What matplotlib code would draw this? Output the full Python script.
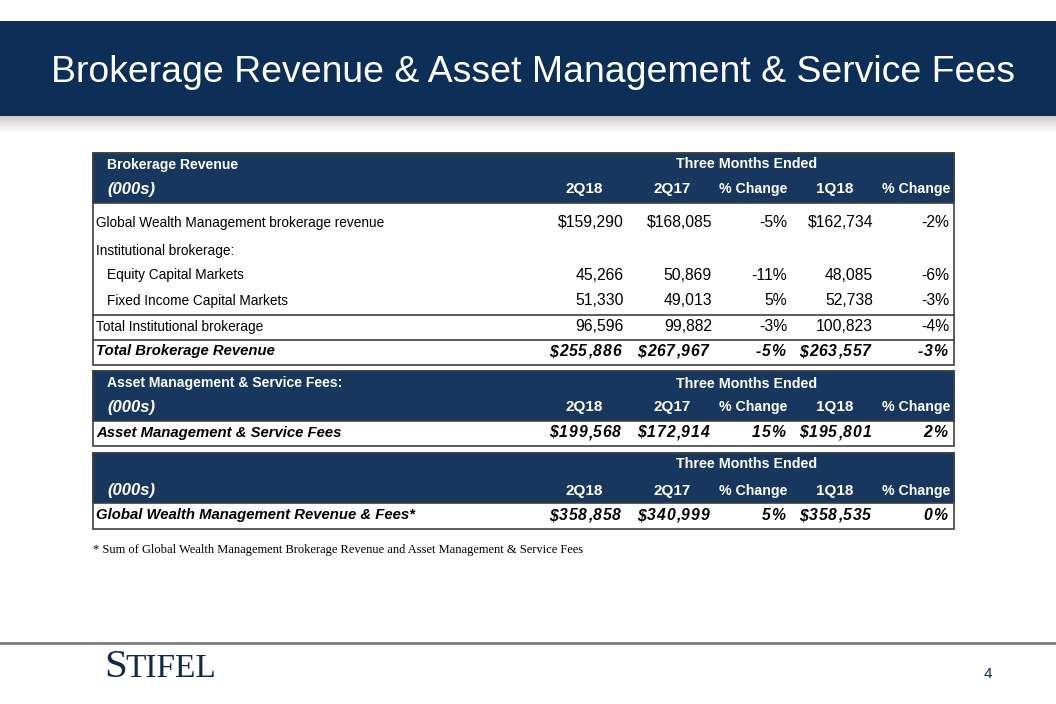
import matplotlib
matplotlib.use("Agg")
import matplotlib.pyplot as plt
from matplotlib.patches import Rectangle
from matplotlib import font_manager as fm

# ---------------- data ----------------
title = "Brokerage Revenue & Asset Management & Service Fees"
col_headers = ["2Q18", "2Q17", "% Change", "1Q18", "% Change"]

brok_labels = ["Global Wealth Management brokerage revenue",
               "Institutional brokerage:",
               "Equity Capital Markets",
               "Fixed Income Capital Markets",
               "Total Institutional brokerage",
               "Total Brokerage Revenue"]
brok_indent = [False, False, True, True, False, False]
brok_2q18 = [159290, None, 45266, 51330, 96596, 255886]
brok_2q17 = [168085, None, 50869, 49013, 99882, 267967]
brok_yoy = [-5, None, -11, 5, -3, -5]
brok_1q18 = [162734, None, 48085, 52738, 100823, 263557]
brok_qoq = [-2, None, -6, -3, -4, -3]
brok_dollar = [True, False, False, False, False, True]

am_label = "Asset Management & Service Fees"
am_values = [199568, 172914, 15, 195801, 2]

gwm_label = "Global Wealth Management Revenue & Fees*"
gwm_values = [358858, 340999, 5, 358535, 0]

footnote = "* Sum of Global Wealth Management Brokerage Revenue and Asset Management & Service Fees"

# ---------------- style ----------------
names = {f.name for f in fm.fontManager.ttflist}
SANS = "Liberation Sans"
NARROW = "Liberation Sans Narrow" if "Liberation Sans Narrow" in names else SANS
SERIF = "Liberation Serif"
BANNER = "#0c2e57"
HEAD = "#17375e"
NAVY = "#13294b"
BORDER = "#404040"
# Arial/Liberation Sans advance widths (per 1000 em) for letter-spaced totals
ADV = {"$": 556, ",": 278, "%": 889, "-": 333}
for d in "0123456789":
    ADV[d] = 556

W, H = 1056, 704
fig = plt.figure(figsize=(W / 100, H / 100), dpi=100)
ax = fig.add_axes([0, 0, 1, 1])
ax.set_xlim(0, W)
ax.set_ylim(H, 0)
ax.axis("off")

# banner with shadow
for i in range(16):
    ax.add_patch(Rectangle((0, 116 + i), W, 1, color="#707070",
                           alpha=0.35 * (1 - i / 16), lw=0))
ax.add_patch(Rectangle((0, 21), W, 95, color=BANNER, lw=0))
ax.text(533, 72, title, color="white", fontsize=26.9, family=SANS,
        ha="center", va="center")

# column x positions (right edges)
data_x = [624, 712, 787, 873, 949]
total_x = [621, 709, 785, 871, 947]
head_x = [603, 691, 787, 853, 950]
left_x = 93
right_x = 954
label_fs = 11.2 if NARROW != SANS else 9.8
num_fs = 11.3
VA = "center_baseline"


def spaced_right(x, y, s, fs, gap, **kw):
    """Right-aligned text drawn with extra letter spacing."""
    px = fs * 100 / 72
    for ch in reversed(s):
        x -= ADV.get(ch, 556) / 1000 * px
        ax.text(x, y, ch, fontsize=fs, ha="left", **kw)
        x -= gap


def fmt_num(v, dollar):
    if v is None:
        return ""
    s = f"{v:,}"
    return "$" + s if dollar else s


def fmt_pct(v):
    return "" if v is None else f"{v}%"


def header(top, hbot, bottom, title_txt, y1, y2):
    ax.add_patch(Rectangle((left_x, top), right_x - left_x, bottom - top,
                           facecolor="white", edgecolor=BORDER, lw=1.2, zorder=1))
    ax.add_patch(Rectangle((left_x, top), right_x - left_x, hbot - top,
                           facecolor=HEAD, edgecolor=BORDER, lw=1.2, zorder=2))
    kw = dict(color="white", family=SANS, fontweight="bold", va=VA, zorder=3)
    if title_txt:
        ax.text(107, y1, title_txt, fontsize=10.1, ha="left", **kw)
    ax.text(747, y1, "Three Months Ended", fontsize=10.3, ha="center", **kw)
    ax.text(107, y2, "(000s)", fontsize=12, style="italic", ha="left", **kw)
    for x, h in zip(head_x, col_headers):
        ax.text(x, y2, h, fontsize=10.2 if h.startswith("%") else 11,
                ha="right", **kw)


def total_row(y, label, vals):
    kw = dict(family=SANS, fontweight="bold", style="italic", va=VA,
              zorder=3, color="black")
    ax.text(left_x + 3, y, label, ha="left", fontsize=10.7, **kw)
    txt = [fmt_num(vals[0], True), fmt_num(vals[1], True), fmt_pct(vals[2]),
           fmt_num(vals[3], True), fmt_pct(vals[4])]
    for x, t in zip(total_x, txt):
        spaced_right(x, y, t, 11.3, 0.9, **kw)


# ---- table 1 ----
header(153, 203, 365, "Brokerage Revenue", 163, 188)
row_y = [221, 249, 274, 299, 325]
for i, y in enumerate(row_y):
    ax.text(107 if brok_indent[i] else left_x + 3, y, brok_labels[i],
            fontsize=label_fs, family=NARROW, ha="left", va=VA,
            zorder=3, color="black")
    txt = [fmt_num(brok_2q18[i], brok_dollar[i]),
           fmt_num(brok_2q17[i], brok_dollar[i]),
           fmt_pct(brok_yoy[i]),
           fmt_num(brok_1q18[i], brok_dollar[i]),
           fmt_pct(brok_qoq[i])]
    for x, t in zip(data_x, txt):
        ax.text(x, y, t, fontsize=num_fs, family=SANS, ha="right",
                va=VA, zorder=3, color="black")
for yl in (315, 340):
    ax.plot([left_x, right_x], [yl, yl], color=BORDER, lw=1.2, zorder=3)
total_row(350, brok_labels[5], [brok_2q18[5], brok_2q17[5], brok_yoy[5],
                                brok_1q18[5], brok_qoq[5]])

# ---- table 2 ----
header(371, 421, 446, "Asset Management & Service Fees:", 382, 406)
total_row(431, am_label, am_values)

# ---- table 3 ----
header(453, 503, 529, "", 463, 489)
total_row(514, gwm_label, gwm_values)

# footnote
ax.text(93, 548, footnote, fontsize=9, family=SERIF, ha="left",
        va=VA, color="black")

# footer
ax.plot([0, W], [643, 643], color="#7f7f7f", lw=2)
ax.text(104, 677, "S", fontsize=29.5, family=SERIF, color=NAVY,
        ha="left", va="baseline")
ax.text(125, 677, "TIFEL", fontsize=24, family=SERIF, color=NAVY,
        ha="left", va="baseline")
ax.text(988, 672, "4", fontsize=11, family=SANS, color=NAVY,
        ha="center", va=VA)

fig.savefig("out.png", dpi=100)
